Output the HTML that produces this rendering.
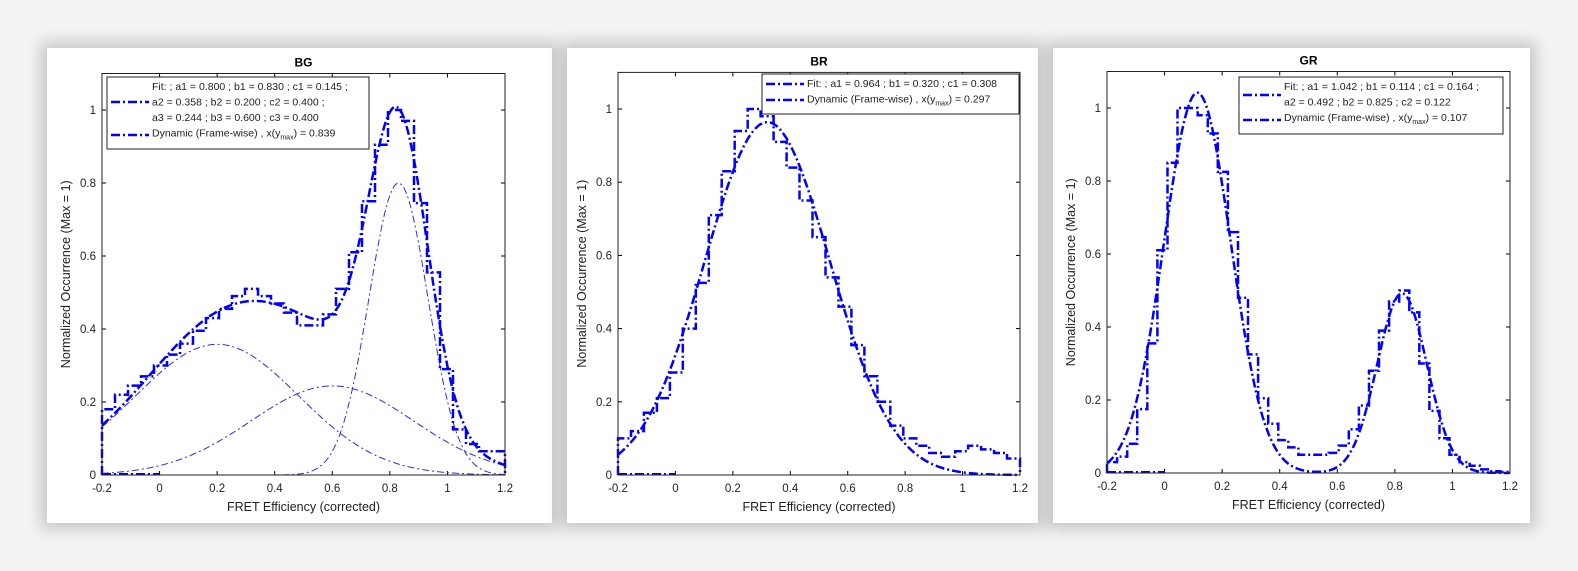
<!DOCTYPE html>
<html><head><meta charset="utf-8">
<style>
body{margin:0;width:1578px;height:571px;background:#f3f3f3;overflow:hidden;font-family:"Liberation Sans",sans-serif}
.card{position:absolute;background:#fff;box-shadow:0 0 14px 6px rgba(0,0,0,0.18)}
svg{position:absolute;left:0;top:0}
</style></head><body>
<div class="card" style="left:47px;top:48px;width:505px;height:475px"></div>
<div class="card" style="left:567px;top:48px;width:471px;height:475px"></div>
<div class="card" style="left:1053px;top:48px;width:477px;height:475px"></div>
<svg id="s" width="1578" height="571"></svg>
<script>
// BG data
const bgHist=[0.18,0.22,0.245,0.27,0.30,0.33,0.36,0.395,0.43,0.455,0.49,0.51,0.49,0.47,0.445,0.41,0.41,0.44,0.51,0.61,0.75,0.905,1.0,0.97,0.745,0.555,0.29,0.125,0.085,0.065,0.065];
const bgA=[0.800,0.358,0.244], bgB=[0.830,0.200,0.600], bgC=[0.145,0.400,0.400];
// BR data
const brHist=[0.10,0.12,0.17,0.21,0.28,0.40,0.525,0.71,0.83,0.94,1.0,0.98,0.91,0.84,0.75,0.65,0.54,0.46,0.355,0.27,0.20,0.135,0.10,0.08,0.06,0.05,0.065,0.08,0.07,0.06,0.045];
const brA=[0.964], brB=[0.320], brC=[0.308];
// GR data
const grHist=[0.03,0.045,0.08,0.175,0.355,0.61,0.85,1.0,1.0,0.98,0.93,0.825,0.66,0.48,0.325,0.205,0.135,0.09,0.07,0.05,0.05,0.05,0.055,0.075,0.12,0.185,0.28,0.39,0.47,0.5,0.44,0.3,0.17,0.095,0.05,0.03,0.02,0.01,0.005,0.003];
const grA=[1.042,0.492], grB=[0.114,0.825], grC=[0.164,0.122];
const xTicks=[-0.2,0,0.2,0.4,0.6,0.8,1,1.2];
const xTickLabels=["-0.2","0","0.2","0.4","0.6","0.8","1","1.2"];
const yTicks=[0,0.2,0.4,0.6,0.8,1];
const yTickLabels=["0","0.2","0.4","0.6","0.8","1"];

const S=document.getElementById('s');
const NS='http://www.w3.org/2000/svg';
function mk(tag,at,parent){const e=document.createElementNS(NS,tag);for(const k in at)e.setAttribute(k,at[k]);(parent||S).appendChild(e);return e;}
const DASH="9,3,2,3";
function panel(p){
  const g=mk('g',{});
  
  
  const X=v=>p.x0+(v+0.2)/1.4*(p.x1-p.x0);
  const Y=v=>p.y0-v*(p.y0-p.y1);
  const top=Y(1.1);
  xTicks.forEach((t,i)=>{
    mk('line',{x1:X(t),x2:X(t),y1:p.y0,y2:p.y0-4,stroke:'#000','stroke-width':1},g);
    mk('line',{x1:X(t),x2:X(t),y1:top,y2:top+4,stroke:'#000','stroke-width':1},g);
    const tx=mk('text',{x:X(t),y:p.y0+17,'text-anchor':'middle','font-size':11.5,fill:'#222'},g);
    tx.textContent=xTickLabels[i];
    
    
  });
  yTicks.forEach((t,i)=>{
    mk('line',{x1:p.x0,x2:p.x0+4,y1:Y(t),y2:Y(t),stroke:'#000','stroke-width':1},g);
    mk('line',{x1:p.x1,x2:p.x1-4,y1:Y(t),y2:Y(t),stroke:'#000','stroke-width':1},g);
    const tx=mk('text',{x:p.x0-6,y:Y(t)+4,'text-anchor':'end','font-size':11.5,fill:'#222'},g);
    tx.textContent=yTickLabels[i];
    
    
  });
  const gauss=(x,a,b,c)=>a*Math.exp(-Math.pow((x-b)/c,2));
  if(p.comps){
    for(let k=0;k<p.A.length;k++){
      let d='';
      for(let i=0;i<=200;i++){const x=-0.2+1.4*i/200;d+=(i?'L':'M')+X(x).toFixed(1)+','+Y(gauss(x,p.A[k],p.B[k],p.C[k])).toFixed(1);}
      const c=mk('path',{d:d,fill:'none',stroke:'#2a2aff','stroke-width':1,'stroke-dasharray':'7,3,2,3'},g);
      
      
    }
  }
  const n=p.hist.length,w=1.4/n;
  let d='M'+X(-0.2)+','+Y(0);
  p.hist.forEach((v,i)=>{const xa=-0.2+i*w;d+='L'+X(xa).toFixed(1)+','+Y(v).toFixed(1)+'L'+X(xa+w).toFixed(1)+','+Y(v).toFixed(1);});
  d+='L'+X(1.2)+','+Y(0);
  const h=mk('path',{d:d,fill:'none',stroke:'#0000ff','stroke-width':2.5,'stroke-dasharray':DASH},g);
  
  
  const z=mk('line',{x1:X(-0.2),x2:X(0),y1:Y(0)-1,y2:Y(0)-1,stroke:'#0000ff','stroke-width':2,'stroke-dasharray':DASH},g);
  
  
  let f='';
  for(let i=0;i<=280;i++){const x=-0.2+1.4*i/280;let y=0;for(let k=0;k<p.A.length;k++)y+=gauss(x,p.A[k],p.B[k],p.C[k]);f+=(i?'L':'M')+X(x).toFixed(1)+','+Y(y).toFixed(1);}
  const fl=mk('path',{d:f,fill:'none',stroke:'#0000ff','stroke-width':2.5,'stroke-dasharray':DASH},g);
  
  
  const fr=mk('rect',{x:p.x0,y:top,width:p.x1-p.x0,height:p.y0-top,fill:'none',stroke:'#222','stroke-width':1},g);
  
  
  const tt=mk('text',{x:(p.x0+p.x1)/2,y:top-7,'text-anchor':'middle','font-size':12,'font-weight':'bold'},g);
  tt.textContent=p.title;
  
  
  const xl=mk('text',{x:(p.x0+p.x1)/2,y:p.y0+36,'text-anchor':'middle','font-size':12.5,fill:'#222'},g);
  xl.textContent='FRET Efficiency (corrected)';
  
  
  const yc=(top+p.y0)/2;
  const yl=mk('text',{x:p.x0-32,y:yc,'text-anchor':'middle','font-size':12.5,fill:'#222',transform:`rotate(-90 ${p.x0-32} ${yc})`},g);
  yl.textContent='Normalized Occurrence (Max = 1)';
  
  
  const L=p.leg;
  const lg=mk('g',{},g);
  
  
  mk('rect',{x:L.x,y:L.y,width:L.w,height:L.h,fill:'#fff',stroke:'#222','stroke-width':1},lg);
  L.rows.forEach((r,i)=>{
    const t=mk('text',{x:L.tx,y:L.y+13+i*15.5,'font-size':10.5,fill:'#222'},lg);
    t.innerHTML=r;
    
    
  });
  L.samples.forEach(sy=>{
    mk('line',{x1:L.x+4,x2:L.tx-3,y1:sy,y2:sy,stroke:'#0000ff','stroke-width':2.5,'stroke-dasharray':DASH},lg);
  });
}
const sub='<tspan font-size="7" dy="3">max</tspan><tspan dy="-3">)</tspan>';
panel({name:'bg-chart',title:'BG',x0:102,x1:505,y0:475,y1:110,hist:bgHist,A:bgA,B:bgB,C:bgC,comps:true,
 leg:{x:107,y:77,w:262,h:72,tx:152,samples:[102,135],rows:[
 'Fit: ; a1 = 0.800 ; b1 = 0.830 ; c1 = 0.145 ;','a2 = 0.358 ; b2 = 0.200 ; c2 = 0.400 ;','a3 = 0.244 ; b3 = 0.600 ; c3 = 0.400','Dynamic (Frame-wise) , x(y'+sub+' = 0.839']}});
panel({name:'br-chart',title:'BR',x0:618,x1:1020,y0:475,y1:109,hist:brHist,A:brA,B:brB,C:brC,comps:false,
 leg:{x:762,y:74,w:257,h:40,tx:807,samples:[84,100],rows:[
 'Fit: ; a1 = 0.964 ; b1 = 0.320 ; c1 = 0.308','Dynamic (Frame-wise) , x(y'+sub+' = 0.297']}});
panel({name:'gr-chart',title:'GR',x0:1107,x1:1510,y0:473,y1:108,hist:grHist,A:grA,B:grB,C:grC,comps:false,
 leg:{x:1239,y:77,w:264,h:57,tx:1284,samples:[95,120],rows:[
 'Fit: ; a1 = 1.042 ; b1 = 0.114 ; c1 = 0.164 ;','a2 = 0.492 ; b2 = 0.825 ; c2 = 0.122','Dynamic (Frame-wise) , x(y'+sub+' = 0.107']}});
</script>
</body></html>
